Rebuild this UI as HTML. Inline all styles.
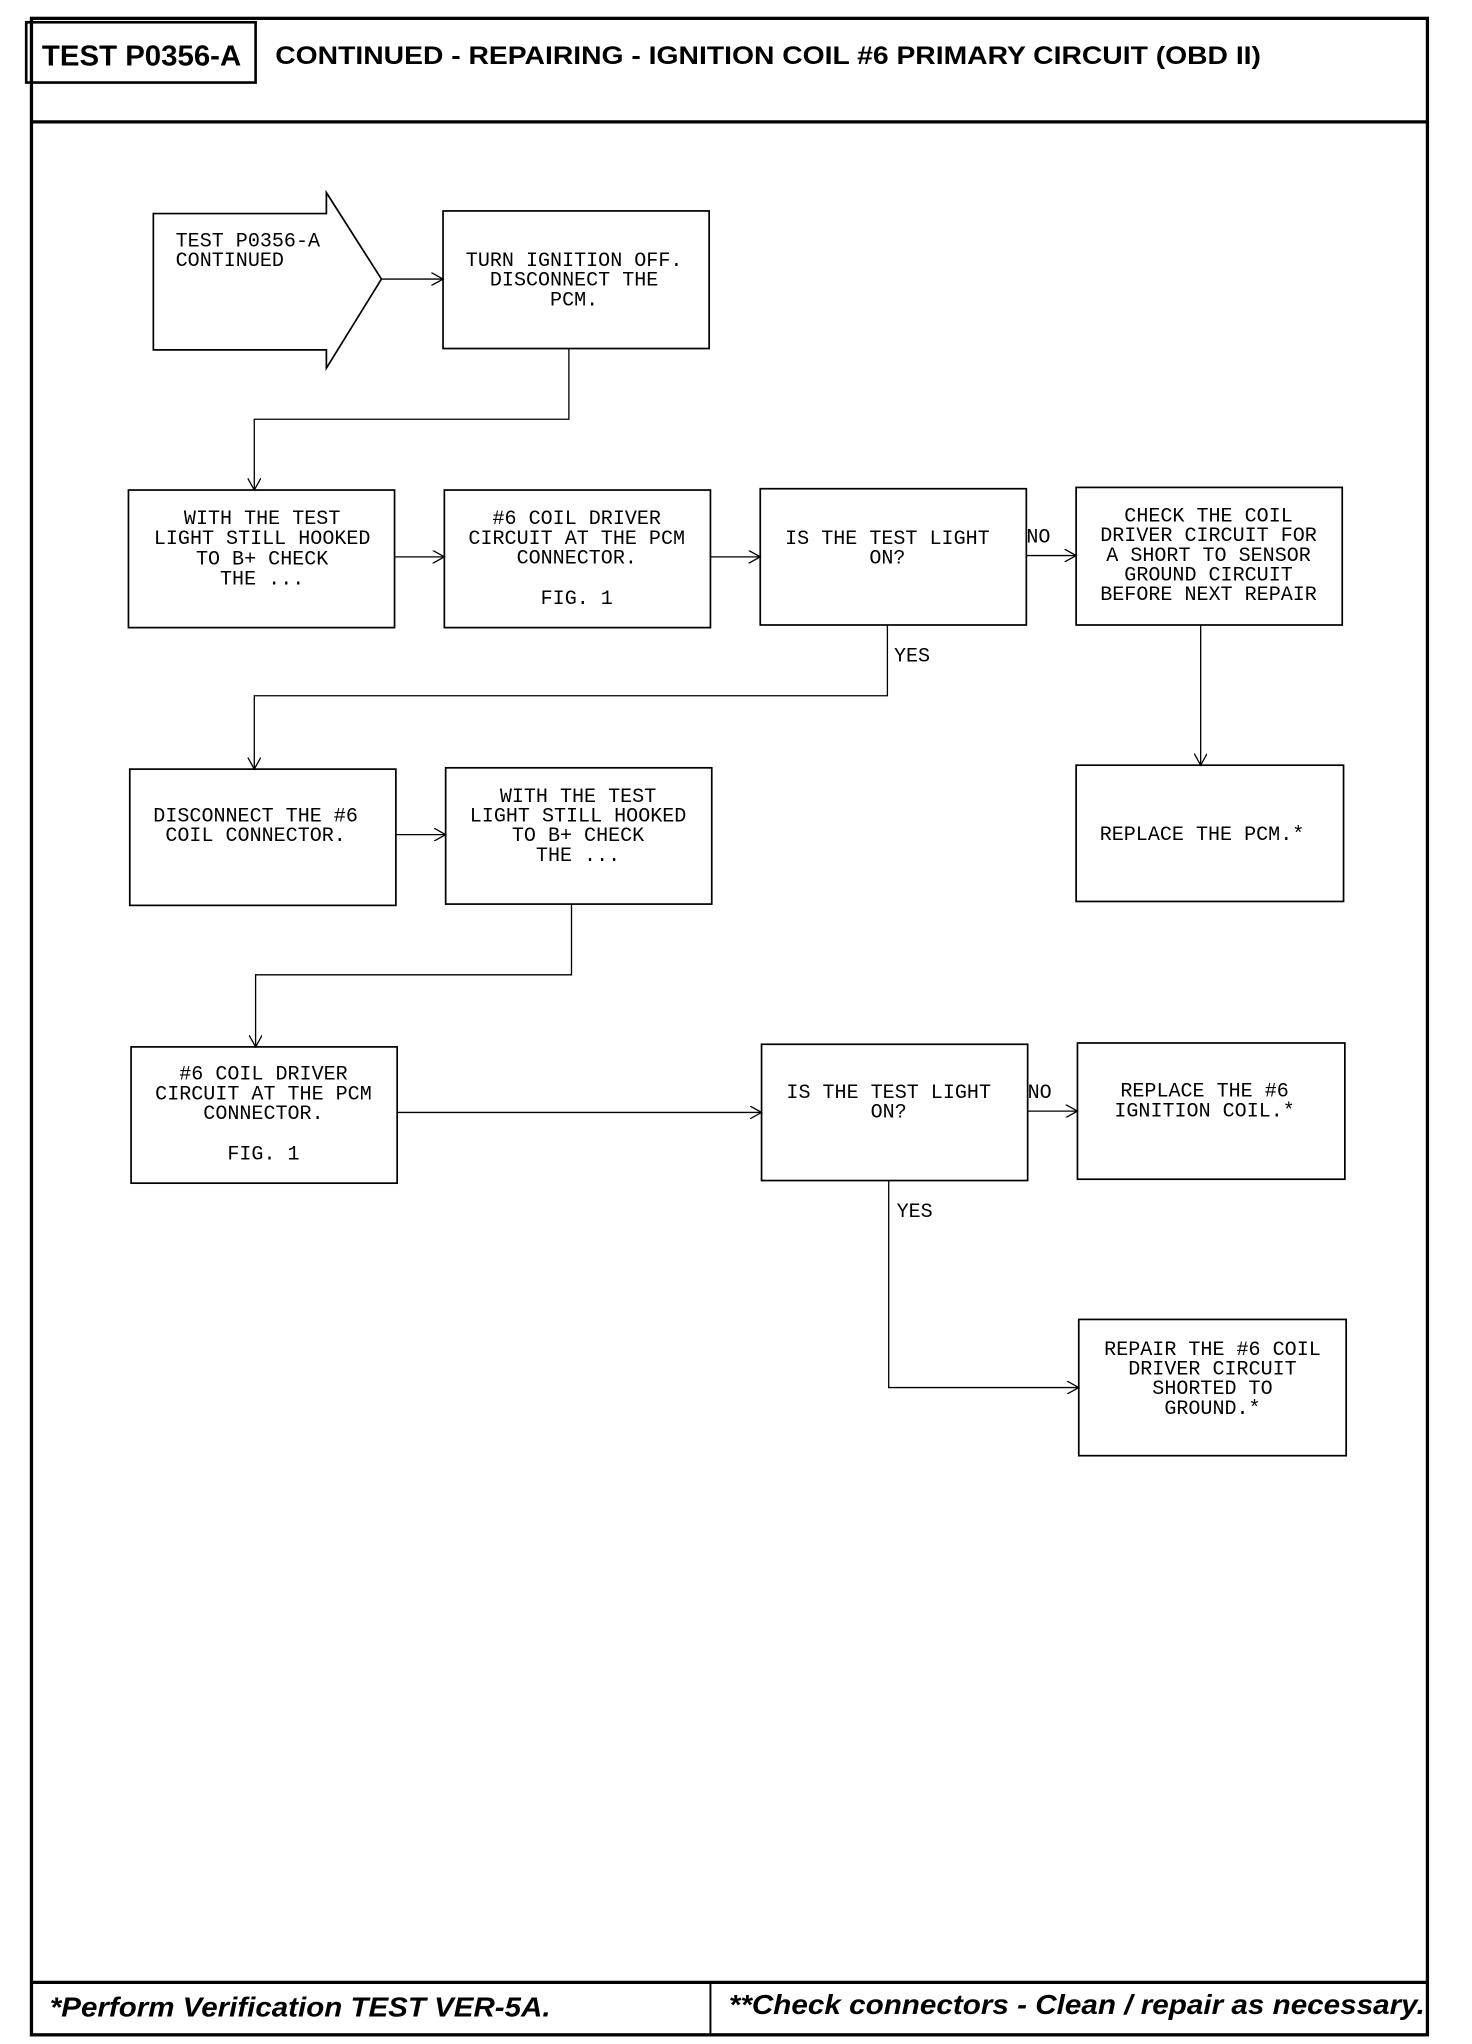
<!DOCTYPE html>
<html><head><meta charset="utf-8"><style>
html,body{margin:0;padding:0;background:#fff;}
svg{display:block;}
.m{font-family:"Liberation Mono",monospace;font-size:15.3px;fill:#000;}
.h{font-family:"Liberation Sans",sans-serif;font-weight:bold;fill:#000;}
</style></head><body>
<svg width="1472" height="2044" viewBox="0 0 1123 1560" preserveAspectRatio="none" xmlns="http://www.w3.org/2000/svg">
<defs><marker id="a" markerWidth="10" markerHeight="10" refX="9" refY="5" orient="auto" markerUnits="userSpaceOnUse"><path d="M0,0 L9,5 L0,10" fill="none" stroke="#000" stroke-width="1"/></marker></defs>
<g fill="none" stroke="#000">
<rect x="24" y="14" width="1065" height="1539" stroke-width="2.5"/>
<line x1="24" y1="93" x2="1089" y2="93" stroke-width="2.5"/>
<rect x="20" y="17" width="175" height="46" stroke-width="2"/>
<line x1="24" y1="1513" x2="1089" y2="1513" stroke-width="2.5"/>
<line x1="542" y1="1513" x2="542" y2="1553" stroke-width="1.5"/>
<g stroke-width="1.3">
<path d="M117,163 H249 V147 L291,213 L249,281 V267 H117 Z"/>
<rect x="338" y="161" width="203" height="105"/>
<rect x="98" y="374" width="203" height="105"/>
<rect x="339" y="374" width="203" height="105"/>
<rect x="580" y="373" width="203" height="104"/>
<rect x="821" y="372" width="203" height="105"/>
<rect x="99" y="587" width="203" height="104"/>
<rect x="340" y="586" width="203" height="104"/>
<rect x="821" y="584" width="204" height="104"/>
<rect x="100" y="799" width="203" height="104"/>
<rect x="581" y="797" width="203" height="104"/>
<rect x="822" y="796" width="204" height="104"/>
<rect x="823" y="1007" width="204" height="104"/>
</g>
<g stroke-width="1" marker-end="url(#a)">
<path d="M291,213 H338"/>
<path d="M434,266 V320 H194 V374"/>
<path d="M301,425 H339"/>
<path d="M542,425 H580"/>
<path d="M783,424 H821"/>
<path d="M677,477 V531 H194 V587"/>
<path d="M916,477 V584"/>
<path d="M302,637 H340"/>
<path d="M436,690 V744 H195 V799"/>
<path d="M303,849 H581"/>
<path d="M784,848 H822"/>
<path d="M678,901 V1059 H823"/>
</g>
</g>
<text class="h" x="32" y="50" font-size="22" textLength="152" lengthAdjust="spacingAndGlyphs">TEST P0356-A</text>
<text class="h" x="210" y="49" font-size="19" textLength="752" lengthAdjust="spacingAndGlyphs">CONTINUED - REPAIRING - IGNITION COIL #6 PRIMARY CIRCUIT (OBD II)</text>
<text class="h" x="38" y="1539" font-size="21" font-style="italic" textLength="382" lengthAdjust="spacingAndGlyphs">*Perform Verification TEST VER-5A.</text>
<text class="h" x="556" y="1537" font-size="21" font-style="italic" textLength="531" lengthAdjust="spacingAndGlyphs">**Check connectors - Clean / repair as necessary.</text>
<g class="m">
<text x="134" y="188">TEST P0356-A</text><text x="134" y="203">CONTINUED</text>
</g>
<g class="m" text-anchor="middle">
<text x="438" y="203">TURN IGNITION OFF.</text><text x="438" y="218">DISCONNECT THE</text><text x="438" y="233">PCM.</text>
<text x="200" y="400">WITH THE TEST</text><text x="200" y="415">LIGHT STILL HOOKED</text><text x="200" y="431">TO B+ CHECK</text><text x="200" y="446">THE ...</text>
<text x="440" y="400">#6 COIL DRIVER</text><text x="440" y="415">CIRCUIT AT THE PCM</text><text x="440" y="430">CONNECTOR.</text><text x="440" y="461">FIG. 1</text>
<text x="677" y="415">IS THE TEST LIGHT</text><text x="677" y="430">ON?</text>
<text x="922" y="398">CHECK THE COIL</text><text x="922" y="413">DRIVER CIRCUIT FOR</text><text x="922" y="428">A SHORT TO SENSOR</text><text x="922" y="443">GROUND CIRCUIT</text><text x="922" y="458">BEFORE NEXT REPAIR</text>
<text x="195" y="627">DISCONNECT THE #6</text><text x="195" y="642">COIL CONNECTOR.</text>
<text x="441" y="612">WITH THE TEST</text><text x="441" y="627">LIGHT STILL HOOKED</text><text x="441" y="642">TO B+ CHECK</text><text x="441" y="657">THE ...</text>
<text x="917" y="641">REPLACE THE PCM.*</text>
<text x="201" y="824">#6 COIL DRIVER</text><text x="201" y="839">CIRCUIT AT THE PCM</text><text x="201" y="854">CONNECTOR.</text><text x="201" y="885">FIG. 1</text>
<text x="678" y="838">IS THE TEST LIGHT</text><text x="678" y="853">ON?</text>
<text x="919" y="837">REPLACE THE #6</text><text x="919" y="852">IGNITION COIL.*</text>
<text x="925" y="1034">REPAIR THE #6 COIL</text><text x="925" y="1049">DRIVER CIRCUIT</text><text x="925" y="1064">SHORTED TO</text><text x="925" y="1079">GROUND.*</text>
</g>
<g class="m" font-size="13">
<text x="783" y="414">NO</text><text x="682" y="505">YES</text>
<text x="784" y="838">NO</text><text x="684" y="929">YES</text>
</g>
</svg>
</body></html>
